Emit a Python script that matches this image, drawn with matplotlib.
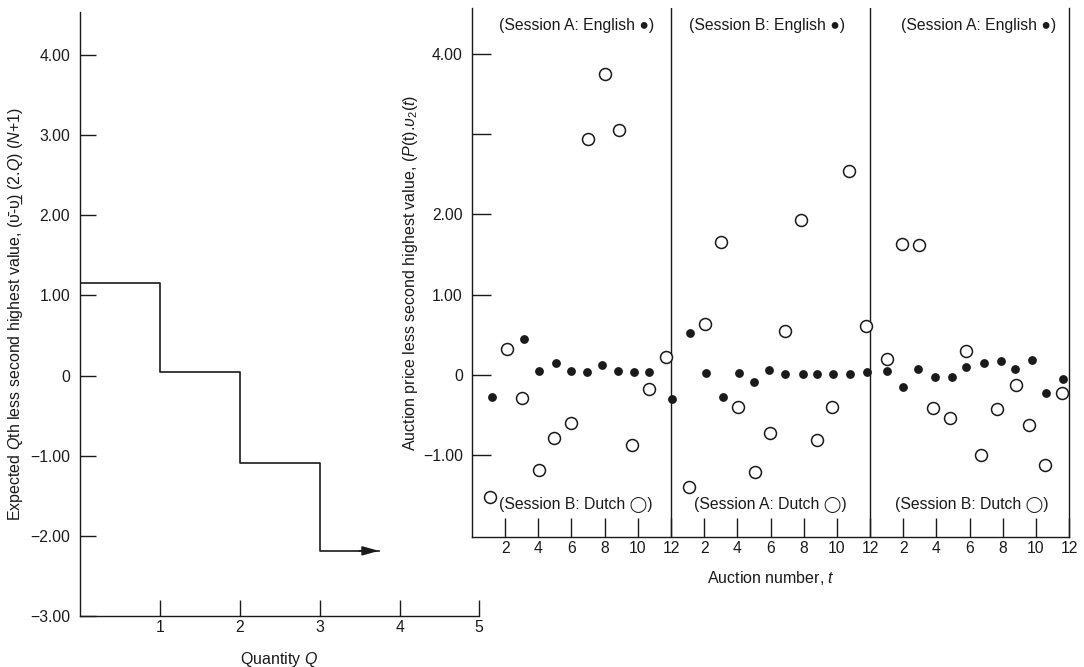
import matplotlib
matplotlib.use("Agg")
import matplotlib.pyplot as plt
import numpy as np

plt.rcParams["font.family"] = ["Liberation Sans", "DejaVu Sans"]
plt.rcParams["mathtext.fontset"] = "custom"
plt.rcParams["mathtext.it"] = "Liberation Sans:italic"
plt.rcParams["mathtext.rm"] = "Liberation Sans"

INK = "#1a1a1a"
TICK_FS = 11.3
LABEL_FS = 11.5

# left panel: expected Qth less second highest value
step_q = [0, 1, 2, 3]
step_val = [1.16, 0.05, -1.09, -2.19]
arrow_end_q = 3.74

# right panel: auction number (continuous over three sessions of 12)
english_t = [1.19, 3.14, 4.04, 5.05, 5.97, 6.96, 7.86, 8.83, 9.79, 10.68, 12.06,
             13.13, 14.11, 15.12, 16.08, 17.01, 17.93, 18.90, 19.96, 20.81, 21.79, 22.78, 23.80,
             25.03, 26.0, 26.9, 27.93, 28.95, 29.81, 30.88, 31.89, 32.73, 33.76, 34.60, 35.64]
english_val = [-0.275, 0.45, 0.04, 0.14, 0.04, 0.035, 0.125, 0.04, 0.03, 0.035, -0.30,
               0.52, 0.02, -0.28, 0.02, -0.09, 0.055, 0.01, 0.01, 0.01, 0.01, 0.01, 0.035,
               0.04, -0.16, 0.07, -0.025, -0.025, 0.095, 0.14, 0.175, 0.07, 0.18, -0.225, -0.06]

dutch_t = [1.10, 2.09, 3.04, 4.06, 4.92, 5.95, 6.98, 8.02, 8.85, 9.63, 10.68, 11.70,
           13.11, 14.03, 15.04, 16.02, 17.09, 17.97, 18.90, 19.84, 20.81, 21.73, 22.72, 23.76,
           25.03, 25.92, 26.96, 27.78, 28.85, 29.79, 30.72, 31.65, 32.81, 33.57, 34.54, 35.56]
dutch_val = [-1.525, 0.32, -0.29, -1.19, -0.79, -0.61, 2.94, 3.76, 3.06, -0.88, -0.18, 0.225,
             -1.41, 0.63, 1.65, -0.41, -1.22, -0.73, 0.54, 1.925, -0.82, -0.41, 2.54, 0.61,
             0.19, 1.63, 1.62, -0.42, -0.54, 0.30, -1.01, -0.43, -0.13, -0.63, -1.13, -0.23]

english_labels = ["(Session A: English \u25cf)", "(Session B: English \u25cf)", "(Session A: English \u25cf)"]
dutch_labels = ["(Session B: Dutch \u25ef)", "(Session A: Dutch \u25ef)", "(Session B: Dutch \u25ef)"]
session_bounds = [12, 24]
tick_pos = [2, 4, 6, 8, 10, 12, 14, 16, 18, 20, 22, 24, 26, 28, 30, 32, 34, 36]
tick_lab = ["2", "4", "6", "8", "10", "12"] * 3

fig = plt.figure(figsize=(10.84, 6.67), dpi=100)

# ---- right panel (transparent background so the left x axis shows through)
ax2 = fig.add_axes([0.4354, 0.1949, 0.5508, 0.7931])
ax2.patch.set_visible(False)
ax2.plot(dutch_t, dutch_val, "o", ms=8.6, mfc="white", mec=INK, mew=1.1, ls="none", zorder=3)
ax2.plot(english_t, english_val, "o", ms=5.3, mfc=INK, mec=INK, ls="none", zorder=4)
for b in session_bounds:
    ax2.axvline(b, color=INK, lw=1)
ax2.set_xlim(0, 36)
ax2.set_ylim(-2.03, 4.58)
ax2.set_xticks(tick_pos)
ax2.set_xticklabels(tick_lab)
ax2.set_yticks([4, 3, 2, 1, 0, -1])
ax2.set_yticklabels(["4.00", "", "2.00", "1.00", "0", "\u22121.00"])
ax2.tick_params(axis="y", direction="in", length=13.7, width=1, pad=6.5, labelsize=TICK_FS, colors=INK)
ax2.tick_params(axis="x", direction="in", length=14, width=1, pad=3, labelsize=TICK_FS, colors=INK)
ax2.spines["top"].set_visible(False)
for s in ["left", "bottom", "right"]:
    ax2.spines[s].set_color(INK)
    ax2.spines[s].set_linewidth(1)

top_x = [6.3, 17.8, 30.55]
bot_x = [6.27, 17.97, 30.16]
for x, lab in zip(top_x, english_labels):
    ax2.text(x, 4.36, lab, ha="center", va="center", fontsize=TICK_FS, color=INK)
for x, lab in zip(bot_x, dutch_labels):
    ax2.text(x, -1.63, lab, ha="center", va="center", fontsize=TICK_FS, color=INK)

ax2.set_xlabel(r"Auction number, $t$", fontsize=LABEL_FS, color=INK)
ax2.xaxis.set_label_coords(0.5, -0.060)
ax2.set_ylabel(r"Auction price less second highest value, ($P$(t).$\upsilon_2$($t$)",
               fontsize=LABEL_FS, color=INK)
ax2.yaxis.set_label_coords(-0.0876, 0.5)

# ---- left panel
ax1 = fig.add_axes([0.0738, 0.0769, 0.368, 0.905])
ax1.patch.set_visible(False)
ax1.step(step_q + [arrow_end_q], step_val + [step_val[-1]], where="post", color=INK, lw=1.2)
ax1.annotate("", xy=(arrow_end_q, step_val[-1]), xytext=(arrow_end_q - 0.25, step_val[-1]),
             arrowprops=dict(arrowstyle="-|>,head_length=0.9,head_width=0.25", color=INK, lw=1.2,
                             shrinkA=0, shrinkB=0, mutation_scale=11))
ax1.set_xlim(0, 4.99)
ax1.set_ylim(-3.0, 4.54)
ax1.set_xticks([1, 2, 3, 4, 4.99])
ax1.set_xticklabels(["1", "2", "3", "4", "5"])
ax1.set_yticks([4, 3, 2, 1, 0, -1, -2, -3])
ax1.set_yticklabels(["4.00", "3.00", "2.00", "1.00", "0", "\u22121.00", "\u22122.00", "\u22123.00"])
ax1.tick_params(axis="y", direction="in", length=11.5, width=1, pad=7, labelsize=TICK_FS, colors=INK)
ax1.tick_params(axis="x", direction="in", length=11.3, width=1, pad=3, labelsize=TICK_FS, colors=INK)
for s in ["top", "right"]:
    ax1.spines[s].set_visible(False)
for s in ["left", "bottom"]:
    ax1.spines[s].set_color(INK)
    ax1.spines[s].set_linewidth(1)
ax1.set_xlabel(r"Quantity $Q$", fontsize=LABEL_FS, color=INK)
ax1.xaxis.set_label_coords(0.5, -0.057)
ax1.set_ylabel("Expected $Q$th less second highest value, (\u03c5\u0304-\u03c5\u0332) (2.$Q$) ($N$+1)",
               fontsize=LABEL_FS, color=INK)
ax1.yaxis.set_label_coords(-0.137, 0.5)

fig.savefig("out.png", dpi=100)
